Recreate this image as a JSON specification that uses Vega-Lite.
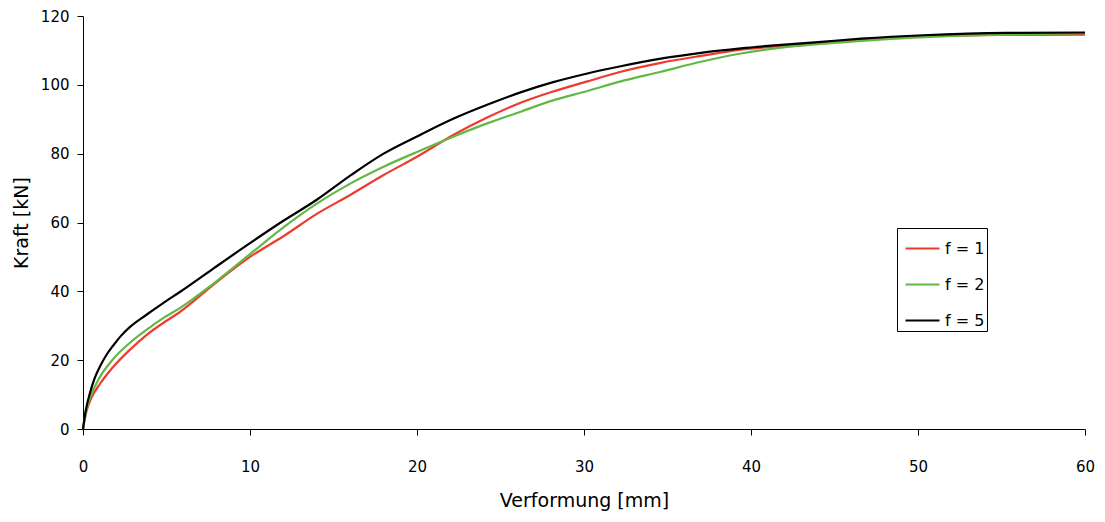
{
  "$schema": "https://vega.github.io/schema/vega-lite/v6.json",
  "width": 1002,
  "height": 413,
  "autosize": "none",
  "padding": {"left": 83, "top": 16, "right": 20, "bottom": 93},
  "background": "white",
  "config": {
    "view": {"stroke": null},
    "font": "DejaVu Sans",
    "axis": {"grid": false, "domainColor": "black", "tickColor": "black", "labelColor": "black", "titleColor": "black", "labelFont": "DejaVu Sans", "titleFont": "DejaVu Sans", "titleFontWeight": "normal", "labelFontSize": 15, "titleFontSize": 19, "tickSize": 6, "labelFlush": false}
  },
  "data": {
    "values": [
      {"x": 0, "y": 0, "f": "f = 1"},
      {"x": 0.2, "y": 5, "f": "f = 1"},
      {"x": 0.5, "y": 9, "f": "f = 1"},
      {"x": 1, "y": 13, "f": "f = 1"},
      {"x": 1.8, "y": 18, "f": "f = 1"},
      {"x": 2.8, "y": 23, "f": "f = 1"},
      {"x": 3.8, "y": 27.3, "f": "f = 1"},
      {"x": 4.8, "y": 30.8, "f": "f = 1"},
      {"x": 5.8, "y": 34, "f": "f = 1"},
      {"x": 7.8, "y": 41.9, "f": "f = 1"},
      {"x": 10, "y": 50, "f": "f = 1"},
      {"x": 12, "y": 56, "f": "f = 1"},
      {"x": 14, "y": 62.5, "f": "f = 1"},
      {"x": 16, "y": 68, "f": "f = 1"},
      {"x": 18, "y": 73.8, "f": "f = 1"},
      {"x": 20, "y": 79.1, "f": "f = 1"},
      {"x": 22.2, "y": 85.5, "f": "f = 1"},
      {"x": 24.2, "y": 90.5, "f": "f = 1"},
      {"x": 26.2, "y": 94.8, "f": "f = 1"},
      {"x": 28.1, "y": 98, "f": "f = 1"},
      {"x": 30.2, "y": 101, "f": "f = 1"},
      {"x": 32.2, "y": 103.8, "f": "f = 1"},
      {"x": 34.6, "y": 106.4, "f": "f = 1"},
      {"x": 37, "y": 108.4, "f": "f = 1"},
      {"x": 39.4, "y": 110.2, "f": "f = 1"},
      {"x": 41.8, "y": 111.3, "f": "f = 1"},
      {"x": 44.2, "y": 112.2, "f": "f = 1"},
      {"x": 46.6, "y": 113, "f": "f = 1"},
      {"x": 50, "y": 114, "f": "f = 1"},
      {"x": 55, "y": 114.5, "f": "f = 1"},
      {"x": 60, "y": 114.6, "f": "f = 1"},
      {"x": 0, "y": 0, "f": "f = 2"},
      {"x": 0.2, "y": 5.5, "f": "f = 2"},
      {"x": 0.5, "y": 10, "f": "f = 2"},
      {"x": 1, "y": 15, "f": "f = 2"},
      {"x": 1.8, "y": 20.3, "f": "f = 2"},
      {"x": 2.8, "y": 25, "f": "f = 2"},
      {"x": 3.8, "y": 28.8, "f": "f = 2"},
      {"x": 4.8, "y": 32.2, "f": "f = 2"},
      {"x": 5.8, "y": 35.1, "f": "f = 2"},
      {"x": 7.8, "y": 42.2, "f": "f = 2"},
      {"x": 10, "y": 50.8, "f": "f = 2"},
      {"x": 12, "y": 58.6, "f": "f = 2"},
      {"x": 14, "y": 65.5, "f": "f = 2"},
      {"x": 16, "y": 71.3, "f": "f = 2"},
      {"x": 18, "y": 76.2, "f": "f = 2"},
      {"x": 20, "y": 80.5, "f": "f = 2"},
      {"x": 22.2, "y": 85, "f": "f = 2"},
      {"x": 24.2, "y": 88.8, "f": "f = 2"},
      {"x": 26.2, "y": 92.2, "f": "f = 2"},
      {"x": 28.1, "y": 95.4, "f": "f = 2"},
      {"x": 30.2, "y": 98.2, "f": "f = 2"},
      {"x": 32.2, "y": 101, "f": "f = 2"},
      {"x": 34.6, "y": 103.8, "f": "f = 2"},
      {"x": 37, "y": 106.7, "f": "f = 2"},
      {"x": 39.4, "y": 109.1, "f": "f = 2"},
      {"x": 41.8, "y": 110.8, "f": "f = 2"},
      {"x": 44.2, "y": 111.9, "f": "f = 2"},
      {"x": 46.6, "y": 112.8, "f": "f = 2"},
      {"x": 50, "y": 113.8, "f": "f = 2"},
      {"x": 55, "y": 114.6, "f": "f = 2"},
      {"x": 60, "y": 115, "f": "f = 2"},
      {"x": 0, "y": 0, "f": "f = 5"},
      {"x": 0.15, "y": 5, "f": "f = 5"},
      {"x": 0.42, "y": 10.5, "f": "f = 5"},
      {"x": 0.7, "y": 14.8, "f": "f = 5"},
      {"x": 1, "y": 18, "f": "f = 5"},
      {"x": 1.4, "y": 21.5, "f": "f = 5"},
      {"x": 1.8, "y": 24.2, "f": "f = 5"},
      {"x": 2.3, "y": 27.2, "f": "f = 5"},
      {"x": 2.8, "y": 29.6, "f": "f = 5"},
      {"x": 3.8, "y": 33.2, "f": "f = 5"},
      {"x": 4.8, "y": 36.6, "f": "f = 5"},
      {"x": 5.8, "y": 39.8, "f": "f = 5"},
      {"x": 7.8, "y": 46.6, "f": "f = 5"},
      {"x": 10, "y": 54, "f": "f = 5"},
      {"x": 12, "y": 60.5, "f": "f = 5"},
      {"x": 14, "y": 66.6, "f": "f = 5"},
      {"x": 16, "y": 73.6, "f": "f = 5"},
      {"x": 18, "y": 80, "f": "f = 5"},
      {"x": 20, "y": 85, "f": "f = 5"},
      {"x": 22.2, "y": 90.2, "f": "f = 5"},
      {"x": 24.2, "y": 94.2, "f": "f = 5"},
      {"x": 26.2, "y": 97.8, "f": "f = 5"},
      {"x": 28.1, "y": 100.7, "f": "f = 5"},
      {"x": 30.2, "y": 103.3, "f": "f = 5"},
      {"x": 32.2, "y": 105.4, "f": "f = 5"},
      {"x": 34.6, "y": 107.6, "f": "f = 5"},
      {"x": 37, "y": 109.3, "f": "f = 5"},
      {"x": 39.4, "y": 110.6, "f": "f = 5"},
      {"x": 41.8, "y": 111.6, "f": "f = 5"},
      {"x": 44.2, "y": 112.5, "f": "f = 5"},
      {"x": 46.6, "y": 113.4, "f": "f = 5"},
      {"x": 50.3, "y": 114.4, "f": "f = 5"},
      {"x": 55.3, "y": 115.1, "f": "f = 5"},
      {"x": 60, "y": 115.2, "f": "f = 5"}
    ]
  },
  "mark": {"type": "line", "strokeWidth": 2.2, "interpolate": "monotone"},
  "encoding": {
    "x": {"field": "x", "type": "quantitative", "scale": {"domain": [0, 60], "nice": false}, "axis": {"values": [0, 10, 20, 30, 40, 50, 60], "title": "Verformung [mm]", "labelPadding": 24, "titlePadding": 17}},
    "y": {"field": "y", "type": "quantitative", "scale": {"domain": [0, 120], "nice": false}, "axis": {"values": [0, 20, 40, 60, 80, 100, 120], "title": "Kraft [kN]", "labelPadding": 8, "titlePadding": 9}},
    "color": {"field": "f", "type": "nominal", "scale": {"domain": ["f = 1", "f = 2", "f = 5"], "range": ["#ee3b2f", "#62b845", "#000000"]},
      "legend": {"title": null, "orient": "none", "legendX": 814, "legendY": 212, "strokeColor": "black", "padding": 2, "symbolType": "stroke", "symbolSize": 1156, "symbolStrokeWidth": 2.2, "symbolOffset": 5, "labelFontSize": 16, "labelColor": "black", "rowPadding": 9, "labelOffset": 4, "fillColor": "white"}}
  }
}
